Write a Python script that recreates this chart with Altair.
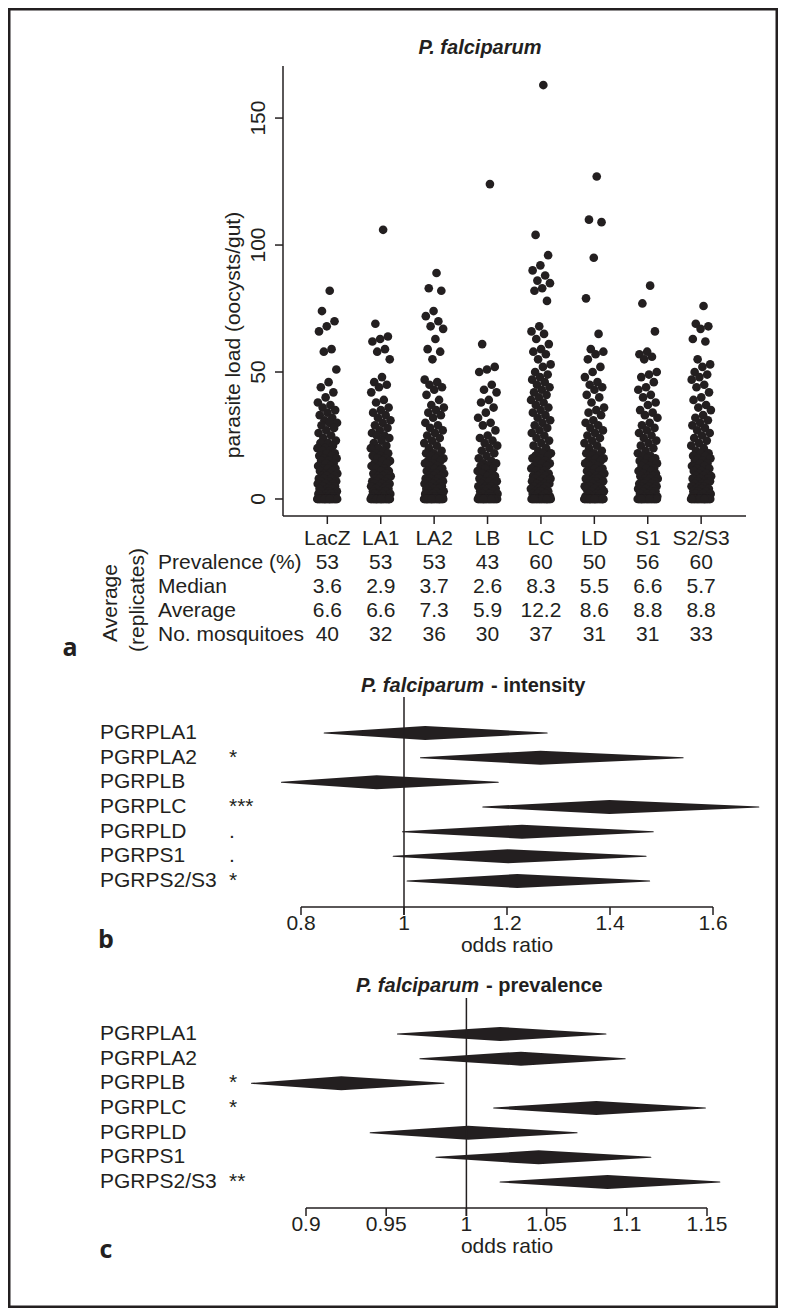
import altair as alt
import pandas as pd

INK = "#231f20"
FONT = "Liberation Sans"

# ---------------- data ----------------
categories = ["LacZ", "LA1", "LA2", "LB", "LC", "LD", "S1", "S2/S3"]

load_lacz = [82, 74, 70, 68, 66, 59, 58, 51, 46, 44, 42, 40, 38, 37, 36, 35, 34, 33, 32, 31,
             30, 30, 29, 28, 27, 26, 25, 24, 23, 22, 22, 21, 20, 20, 19, 19, 18, 18, 17, 17,
             16, 16, 15, 15, 14, 14, 13, 13, 12, 12, 12, 11, 11, 10, 10, 10, 9, 9, 9, 8,
             8, 8, 7, 7, 7, 6, 6, 6, 5, 5, 5, 4, 4, 4, 3, 3, 3, 3, 2, 2,
             2, 2, 1, 1, 1, 1, 1, 0, 0, 0, 0, 0, 0, 0, 0, 0, 0, 0, 0, 0,
             0, 0, 0, 0, 0, 0, 0, 0, 0, 0, 0]
load_la1 = [106, 69, 64, 63, 62, 59, 58, 55, 48, 46, 45, 44, 42, 39, 38, 36, 35, 34, 33, 32,
            31, 30, 29, 28, 27, 26, 25, 25, 24, 23, 22, 21, 20, 20, 19, 18, 18, 17, 17, 16,
            16, 15, 15, 14, 14, 13, 13, 12, 12, 11, 11, 10, 10, 9, 9, 9, 8, 8, 8, 7,
            7, 7, 6, 6, 6, 5, 5, 5, 4, 4, 4, 3, 3, 3, 2, 2, 2, 2, 1, 1,
            1, 1, 0, 0, 0, 0, 0, 0, 0, 0, 0, 0, 0, 0, 0, 0, 0, 0, 0, 0,
            0, 0, 0, 0, 0, 0]
load_la2 = [89, 83, 82, 74, 72, 70, 68, 67, 63, 59, 58, 55, 47, 46, 45, 44, 43, 41, 39, 37,
            36, 35, 34, 33, 32, 30, 29, 28, 27, 26, 25, 24, 23, 22, 21, 20, 19, 18, 18, 17,
            17, 16, 16, 15, 15, 14, 14, 13, 13, 12, 12, 11, 11, 10, 10, 10, 9, 9, 9, 8,
            8, 8, 7, 7, 7, 6, 6, 6, 5, 5, 5, 4, 4, 4, 3, 3, 3, 2, 2, 2,
            2, 1, 1, 1, 1, 0, 0, 0, 0, 0, 0, 0, 0, 0, 0, 0, 0, 0, 0, 0,
            0, 0, 0, 0, 0, 0, 0, 0, 0]
load_lb = [124, 61, 52, 51, 50, 45, 43, 42, 39, 38, 36, 34, 32, 30, 29, 27, 25, 24, 23, 22,
           21, 20, 19, 18, 17, 16, 15, 14, 14, 13, 13, 12, 12, 11, 10, 10, 9, 9, 8, 8,
           7, 7, 7, 6, 6, 5, 5, 5, 4, 4, 4, 3, 3, 3, 2, 2, 2, 1, 1, 1,
           1, 0, 0, 0, 0, 0, 0, 0, 0, 0, 0, 0, 0, 0, 0, 0, 0, 0, 0, 0,
           0, 0, 0]
load_lc = [163, 104, 96, 92, 90, 88, 86, 85, 83, 82, 78, 68, 66, 65, 63, 61, 59, 58, 57, 55,
           53, 52, 50, 49, 48, 47, 46, 45, 44, 43, 42, 41, 40, 39, 38, 37, 36, 35, 34, 33,
           32, 31, 30, 29, 28, 27, 26, 25, 24, 23, 22, 21, 20, 19, 18, 18, 17, 17, 16, 16,
           15, 15, 14, 14, 13, 13, 12, 12, 11, 11, 10, 10, 9, 9, 9, 8, 8, 8, 7, 7,
           7, 6, 6, 6, 5, 5, 5, 4, 4, 4, 3, 3, 3, 2, 2, 2, 1, 1, 1, 0,
           0, 0, 0, 0, 0, 0, 0, 0, 0, 0, 0, 0, 0, 0, 0, 0, 0, 0, 0, 0,
           0]
load_ld = [127, 110, 109, 95, 79, 65, 59, 58, 57, 55, 52, 50, 48, 46, 45, 44, 43, 41, 40, 38,
           36, 35, 34, 33, 31, 30, 29, 28, 27, 26, 25, 24, 23, 22, 21, 20, 19, 18, 18, 17,
           17, 16, 16, 15, 15, 14, 14, 13, 13, 12, 12, 11, 11, 10, 10, 9, 9, 9, 8, 8,
           8, 7, 7, 7, 6, 6, 6, 5, 5, 5, 4, 4, 4, 3, 3, 3, 2, 2, 2, 1,
           1, 1, 0, 0, 0, 0, 0, 0, 0, 0, 0, 0, 0, 0, 0, 0, 0, 0, 0, 0,
           0, 0, 0, 0, 0, 0]
load_s1 = [84, 77, 66, 58, 57, 56, 55, 50, 49, 48, 46, 44, 43, 41, 40, 38, 37, 35, 34, 33,
           32, 30, 29, 28, 27, 26, 25, 24, 23, 22, 21, 20, 19, 18, 17, 17, 16, 16, 15, 15,
           14, 14, 13, 13, 12, 12, 11, 11, 10, 10, 9, 9, 9, 8, 8, 8, 7, 7, 7, 6,
           6, 6, 5, 5, 5, 4, 4, 4, 3, 3, 3, 2, 2, 2, 1, 1, 1, 0, 0, 0,
           0, 0, 0, 0, 0, 0, 0, 0, 0, 0, 0, 0, 0, 0, 0, 0, 0, 0, 0]
load_s23 = [76, 69, 68, 67, 63, 62, 55, 53, 52, 50, 49, 48, 47, 45, 44, 42, 40, 39, 37, 36,
            35, 33, 32, 31, 30, 29, 28, 27, 26, 25, 24, 23, 22, 21, 20, 19, 18, 18, 17, 17,
            16, 16, 15, 15, 14, 14, 13, 13, 12, 12, 11, 11, 10, 10, 9, 9, 9, 8, 8, 8,
            7, 7, 7, 6, 6, 6, 5, 5, 5, 4, 4, 4, 3, 3, 3, 2, 2, 2, 1, 1,
            1, 0, 0, 0, 0, 0, 0, 0, 0, 0, 0, 0, 0, 0, 0, 0, 0, 0, 0, 0,
            0, 0, 0]
loads = [load_lacz, load_la1, load_la2, load_lb, load_lc, load_ld, load_s1, load_s23]

prevalence = [53, 53, 53, 43, 60, 50, 56, 60]
median = [3.6, 2.9, 3.7, 2.6, 8.3, 5.5, 6.6, 5.7]
average = [6.6, 6.6, 7.3, 5.9, 12.2, 8.6, 8.8, 8.8]
n_mosquitoes = [40, 32, 36, 30, 37, 31, 31, 33]
table_labels = ["Prevalence (%)", "Median", "Average", "No. mosquitoes"]
load_ticks = [0, 50, 100, 150]

genes = ["PGRPLA1", "PGRPLA2", "PGRPLB", "PGRPLC", "PGRPLD", "PGRPS1", "PGRPS2/S3"]
int_sig = ["", "*", "", "***", ".", ".", "*"]
int_lo = [0.845, 1.032, 0.762, 1.153, 0.997, 0.979, 1.006]
int_est = [1.041, 1.265, 0.947, 1.399, 1.229, 1.202, 1.220]
int_hi = [1.278, 1.542, 1.183, 1.689, 1.484, 1.470, 1.477]
int_ticks = [0.8, 1.0, 1.2, 1.4, 1.6]
int_tick_labels = ["0.8", "1", "1.2", "1.4", "1.6"]

prev_sig = ["", "", "*", "*", "", "", "**"]
prev_lo = [0.957, 0.971, 0.866, 1.017, 0.940, 0.981, 1.021]
prev_est = [1.021, 1.034, 0.922, 1.081, 1.001, 1.045, 1.088]
prev_hi = [1.087, 1.099, 0.986, 1.149, 1.069, 1.115, 1.158]
prev_ticks = [0.9, 0.95, 1.0, 1.05, 1.1, 1.15]
prev_tick_labels = ["0.9", "0.95", "1", "1.05", "1.1", "1.15"]


# ---------------- layout helpers ----------------
def P(v):
    return v - 8  # page pixel -> canvas pixel


XA = alt.Scale(domain=[0.17, 8.84], range=[P(283), P(746)], nice=False, zero=False)
YA = alt.Scale(domain=[-6.7, 170.5], range=[P(516), P(66)], nice=False, zero=False)
YT = alt.Scale(domain=[0, 4], range=[P(539), P(635)], nice=False, zero=False)
XB = alt.Scale(domain=[0.8, 1.6], range=[P(301), P(713)], nice=False, zero=False)
YB = alt.Scale(domain=[0, 6], range=[P(733), P(881)], nice=False, zero=False)
XC = alt.Scale(domain=[0.9, 1.15], range=[P(306), P(707)], nice=False, zero=False)
YC = alt.Scale(domain=[0, 6], range=[P(1034), P(1182)], nice=False, zero=False)
WS = alt.Scale(domain=[0, 1], range=[0, 14])


def txt(df, x, y, size=21, **kw):
    return alt.Chart(df).mark_text(font=FONT, fontSize=size, color=INK,
                                   baseline="middle", **kw).encode(x=x, y=y, text="t:N")


def label(t, x, y, size=21, **kw):
    return txt(pd.DataFrame({"t": [t]}), alt.value(P(x)), alt.value(P(y)), size=size, **kw)


layers = []

# outer frame
layers.append(alt.Chart(pd.DataFrame({"t": [0]})).mark_rect(
    fill="white", fillOpacity=0, stroke=INK, strokeWidth=5).encode(
    x=alt.value(0), x2=alt.value(770), y=alt.value(0), y2=alt.value(1300)))

# ---------------- panel a : strip chart ----------------
strip_df = pd.DataFrame(
    [{"cat": c, "pos": i + 1, "k": k, "load": v}
     for i, (c, vals) in enumerate(zip(categories, loads)) for k, v in enumerate(vals)]
)
layers.append(
    alt.Chart(strip_df)
    .transform_calculate(xj="datum.pos + ((((datum.k + 1) * 0.6180339887) % 1) - 0.5) * 0.38")
    .mark_circle(size=75, opacity=1, color=INK)
    .encode(x=alt.X("xj:Q", scale=XA, axis=None), y=alt.Y("load:Q", scale=YA, axis=None))
)

frame_a = pd.DataFrame({"x0": [0.17], "x1": [8.84], "y0": [-6.7], "y1": [170.5]})
layers.append(alt.Chart(frame_a).mark_rule(color=INK, strokeWidth=1.5).encode(
    x=alt.X("x0:Q", scale=XA, axis=None), y=alt.Y("y0:Q", scale=YA, axis=None), y2="y1:Q"))
layers.append(alt.Chart(frame_a).mark_rule(color=INK, strokeWidth=1.5).encode(
    x=alt.X("x0:Q", scale=XA, axis=None), x2="x1:Q", y=alt.Y("y0:Q", scale=YA, axis=None)))

yt_df = pd.DataFrame({"v": load_ticks, "t": [str(v) for v in load_ticks]})
layers.append(alt.Chart(yt_df).mark_rule(color=INK, strokeWidth=1.5).encode(
    x=alt.value(P(275)), x2=alt.value(P(283)), y=alt.Y("v:Q", scale=YA, axis=None)))
layers.append(txt(yt_df, alt.value(P(259)), alt.Y("v:Q", scale=YA, axis=None), angle=270, align="center"))

xt_df = pd.DataFrame({"pos": list(range(1, 9))})
layers.append(alt.Chart(xt_df).mark_rule(color=INK, strokeWidth=1.5).encode(
    x=alt.X("pos:Q", scale=XA, axis=None), y=alt.value(P(516)), y2=alt.value(P(524))))

table_rows = []
for i, c in enumerate(categories):
    table_rows.append({"pos": i + 1, "row": 0, "t": c})
    table_rows.append({"pos": i + 1, "row": 1, "t": str(prevalence[i])})
    table_rows.append({"pos": i + 1, "row": 2, "t": str(median[i])})
    table_rows.append({"pos": i + 1, "row": 3, "t": str(average[i])})
    table_rows.append({"pos": i + 1, "row": 4, "t": str(n_mosquitoes[i])})
layers.append(txt(pd.DataFrame(table_rows), alt.X("pos:Q", scale=XA, axis=None),
                  alt.Y("row:Q", scale=YT, axis=None), align="center"))
layers.append(txt(pd.DataFrame({"row": [1, 2, 3, 4], "t": table_labels}), alt.value(P(158)),
                  alt.Y("row:Q", scale=YT, axis=None), align="left"))

layers.append(label("Average", 111, 603, angle=270, align="center"))
layers.append(label("(replicates)", 138, 600, angle=270, align="center"))
layers.append(label("parasite load (oocysts/gut)", 234, 335, angle=270, align="center"))
layers.append(label("P. falciparum", 480, 48, size=20, fontStyle="italic", fontWeight="bold", align="center"))


# ---------------- forest panels ----------------
def forest(lo, est, hi, sig, ticks, tick_labels, XS, YS, axis_y, top_y, title_y, split_x, subtitle):
    out = []
    drows = []
    for i in range(len(genes)):
        drows += [{"row": i, "or": lo[i], "w": 0}, {"row": i, "or": est[i], "w": 1},
                  {"row": i, "or": hi[i], "w": 0}]
    out.append(
        alt.Chart(pd.DataFrame(drows))
        .mark_trail(color=INK)
        .encode(x=alt.X("or:Q", scale=XS, axis=None), y=alt.Y("row:Q", scale=YS, axis=None),
                size=alt.Size("w:Q", scale=WS, legend=None), detail="row:N",
                order=alt.Order("or:Q"))
    )
    ref = pd.DataFrame({"v": [1.0]})
    out.append(alt.Chart(ref).mark_rule(color=INK, strokeWidth=1.5).encode(
        x=alt.X("v:Q", scale=XS, axis=None), y=alt.value(P(top_y)), y2=alt.value(P(axis_y + 8))))
    ax = pd.DataFrame({"a": [ticks[0]], "b": [ticks[-1]]})
    out.append(alt.Chart(ax).mark_rule(color=INK, strokeWidth=1.5).encode(
        x=alt.X("a:Q", scale=XS, axis=None), x2="b:Q", y=alt.value(P(axis_y))))
    tk = pd.DataFrame({"v": ticks, "t": tick_labels})
    out.append(alt.Chart(tk).mark_rule(color=INK, strokeWidth=1.5).encode(
        x=alt.X("v:Q", scale=XS, axis=None), y=alt.value(P(axis_y)), y2=alt.value(P(axis_y + 8))))
    out.append(txt(tk, alt.X("v:Q", scale=XS, axis=None), alt.value(P(axis_y + 17)), align="center"))
    gl = pd.DataFrame({"row": list(range(len(genes))), "t": genes})
    out.append(txt(gl, alt.value(P(100)), alt.Y("row:Q", scale=YS, axis=None), align="left"))
    sg = pd.DataFrame({"row": list(range(len(genes))), "t": sig})
    out.append(txt(sg, alt.value(P(229)), alt.Y("row:Q", scale=YS, axis=None), align="left"))
    out.append(label("odds ratio", 507, axis_y + 39, align="center"))
    out.append(label("P. falciparum", split_x, title_y, size=20, fontStyle="italic",
                     fontWeight="bold", align="right"))
    out.append(label(subtitle, split_x + 7, title_y, size=20, fontWeight="bold", align="left"))
    return out


layers += forest(int_lo, int_est, int_hi, int_sig, int_ticks, int_tick_labels, XB, YB,
                 axis_y=907, top_y=697, title_y=686, split_x=484, subtitle="- intensity")
layers += forest(prev_lo, prev_est, prev_hi, prev_sig, prev_ticks, prev_tick_labels, XC, YC,
                 axis_y=1208, top_y=998, title_y=986, split_x=479, subtitle="- prevalence")

for t, x, y in [("a", 70, 648), ("b", 106, 940), ("c", 106, 1250)]:
    layers.append(alt.Chart(pd.DataFrame({"t": [t]})).mark_text(
        font="Open Sans", fontSize=25, fontWeight="bold", color=INK, baseline="middle",
        align="center").encode(x=alt.value(P(x)), y=alt.value(P(y)), text="t:N"))

chart = (
    alt.layer(*layers)
    .resolve_scale(x="independent", y="independent")
    .properties(width=770, height=1300, padding=0, autosize=alt.AutoSizeParams(type="none"))
    .configure_view(stroke=None)
    .configure(background="white")
)

chart.save("out.html", embed_options={"renderer": "svg", "actions": False})
